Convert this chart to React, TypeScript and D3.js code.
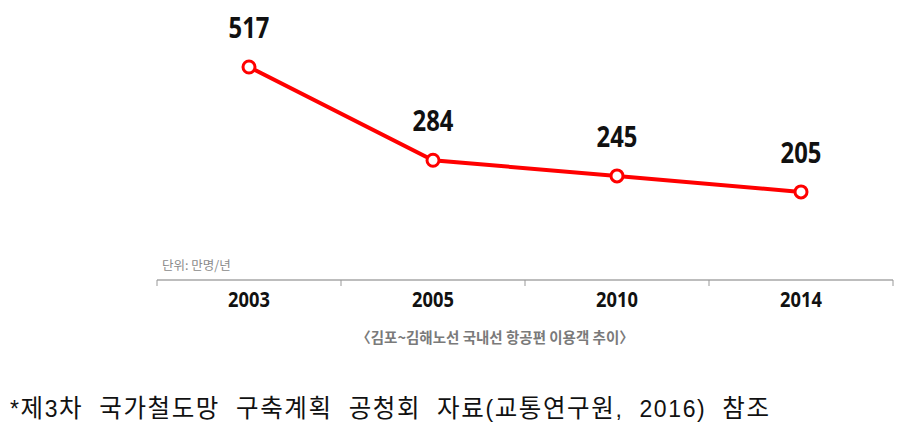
import React from "react";
import * as d3 from "d3";

const years = ["2003", "2005", "2010", "2014"];
const passengers = [517, 284, 245, 205];
const unitLabel = "단위: 만명/년";
const caption = "〈김포~김해노선 국내선 항공편 이용객 추이〉";
const footnote = "*제3차  국가철도망  구축계획  공청회  자료(교통연구원,  2016)  참조";

export default function App() {
  const W = 901, H = 440;
  const x = d3.scaleBand<string>().domain(years).range([157, 893]).padding(0);
  const y = d3.scaleLinear().domain([0, 517]).range([274, 67]);
  const cxOf = (i: number) => (x(years[i]) as number) + x.bandwidth() / 2;
  const line = d3
    .line<number>()
    .x((_, i) => cxOf(i))
    .y((d) => y(d));
  const ticks = [...years.map((yr) => x(yr) as number), 893];
  const font = "'Noto Sans CJK KR', 'Noto Sans', sans-serif";
  const numFont = "'Noto Sans', sans-serif";
  const runs = footnote.match(/[\uAC00-\uD7A3]+|[^\uAC00-\uD7A3]+/g) || [];
  return (
    <svg width={W} height={H} style={{ position: "absolute", left: 0, top: 0, background: "#fff" }}>
      <text x={162} y={270} fontSize={12.5} fill="#8a8a8a" fontFamily={font}>{unitLabel}</text>
      <line x1={157} x2={893} y1={280} y2={280} stroke="#bdbdbd" strokeWidth={2} />
      {ticks.map((t, i) => (
        <line key={i} x1={t} x2={t} y1={280} y2={286} stroke="#999" strokeWidth={1} />
      ))}
      {years.map((yr, i) => (
        <text key={yr} transform={`translate(${cxOf(i)},307) scale(0.87,1)`} textAnchor="middle"
          fontSize={21} fontWeight="bold" fontFamily={numFont} fill="#111">{yr}</text>
      ))}
      <path d={line(passengers) || ""} fill="none" stroke="#ff0000" strokeWidth={4} />
      {passengers.map((v, i) => (
        <g key={i}>
          <circle cx={cxOf(i)} cy={y(v)} r={6} fill="#fff" stroke="#ff0000" strokeWidth={3} />
          <text transform={`translate(${cxOf(i)},${y(v) - 29}) scale(0.85,1)`} textAnchor="middle"
            fontSize={28} fontWeight="bold" fontFamily={numFont} fill="#111">{v}</text>
        </g>
      ))}
      <text x={495} y={343} textAnchor="middle" fontSize={14.5} fontWeight="bold" fill="#7a7a7a"
        fontFamily={font}>{caption}</text>
      <text x={10} y={417} fill="#111" style={{ whiteSpace: "pre" }}
        textLength={759} lengthAdjust="spacing"
        fontFamily="'Liberation Sans', 'Noto Sans CJK KR', sans-serif">
        {runs.map((r, i) => (
          <tspan key={i} fontSize={/[\uAC00-\uD7A3]/.test(r) ? 24.5 : 23}>{r}</tspan>
        ))}
      </text>
    </svg>
  );
}
